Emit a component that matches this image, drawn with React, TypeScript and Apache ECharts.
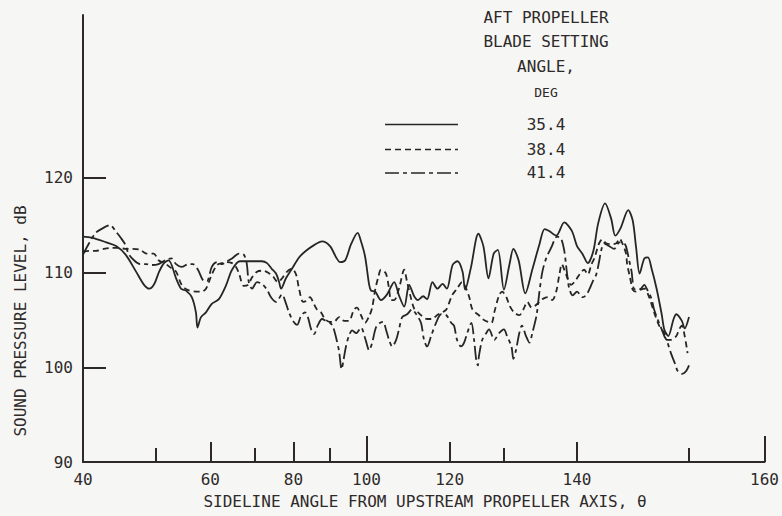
import React, { useEffect, useRef } from "react";
import * as echarts from "echarts";

// Blade setting angle 35.4 deg (solid curve): sideline angle (deg) / SPL (dB)
const angles354 = [
  40.0, 41.0, 42.8, 44.1, 45.4, 46.9, 48.1, 48.9, 49.7, 50.5, 51.3, 52.1, 53.4, 54.3, 55.2, 56.3,
  57.1, 57.4, 58.1, 59.1, 60.3, 61.8, 63.4, 64.7, 66.5, 69.4, 71.8, 73.1, 74.3, 75.4, 76.2, 76.7,
  78.0, 79.6, 81.5, 83.4, 85.6, 87.8, 90.0, 91.7, 92.8, 94.2, 95.8, 97.6, 98.5, 99.6, 100.7, 101.2,
  102.3, 103.8, 105.4, 107.2, 108.4, 109.7, 110.9, 112.1, 113.0, 114.2, 115.1, 116.3, 117.4, 118.5,
  119.4, 120.6, 121.6, 122.6, 123.1, 124.2, 125.6, 126.5, 127.4, 128.3, 129.0, 130.0, 130.9, 131.5,
  132.3, 133.3, 134.3, 135.3, 136.0, 136.6, 137.5, 138.5, 139.4, 140.0, 140.6, 141.2, 141.8, 142.3,
  143.0, 143.6, 144.0, 144.5, 145.2, 145.6, 145.9, 146.2, 146.6, 146.9, 147.2, 147.6, 148.0, 148.2,
  148.5, 148.9, 149.1, 149.5, 149.7, 150.0,
];
const levels354 = [
  113.8, 113.7, 113.2, 112.8, 111.9, 110.1, 108.7, 108.3, 108.8, 110.1, 111.0, 111.3, 109.4, 108.3, 108.1, 107.4,
  105.8, 104.2, 105.3, 105.8, 106.7, 107.2, 108.7, 110.3, 111.2, 111.2, 111.2, 111.0, 110.4, 109.9, 109.0, 108.3,
  109.4, 110.4, 111.6, 112.3, 112.9, 113.3, 112.8, 111.6, 111.1, 111.3, 113.0, 114.2, 113.3, 111.7, 108.7, 108.1,
  108.0, 107.1, 107.7, 109.0, 107.6, 106.4, 108.7, 107.5, 107.1, 107.5, 107.2, 109.0, 108.3, 108.8,
  108.3, 110.8, 111.2, 110.1, 108.2, 110.5, 114.1, 112.8, 109.4, 112.0, 112.4, 108.2, 110.9, 112.5,
  111.3, 107.8, 110.3, 113.0, 114.6, 114.4, 113.9, 115.3, 114.4, 112.8, 112.0, 111.0, 112.3, 115.2,
  117.3, 115.7, 113.9, 114.7, 116.6, 115.5, 112.6, 109.9, 111.5, 111.6, 110.4, 108.3, 105.6, 104.0,
  103.3, 105.1, 105.6, 104.9, 104.1, 105.3,
];

// Blade setting angle 38.4 deg (short dashes)
const angles384 = [
  40.0, 40.7, 41.5, 42.5, 43.5, 44.5, 45.4, 46.4, 47.5, 48.5, 49.6, 50.4, 51.4, 52.5, 53.4, 54.4,
  55.4, 57.1, 58.3, 59.1, 59.7, 60.3, 61.4, 62.5, 63.6, 64.7, 65.6, 66.3, 67.4, 68.4, 69.4, 70.6,
  72.1, 73.3, 74.6, 75.9, 77.0, 78.3, 79.6, 80.7, 81.5, 82.6, 83.4, 84.5, 85.3, 86.4, 87.5, 88.6,
  90.0, 91.1, 92.5, 93.9, 95.2, 96.6, 97.4, 98.5, 99.6, 100.7, 101.5, 102.3, 103.1, 103.8, 105.1, 105.9,
  106.4, 107.2, 108.4, 109.7, 110.4, 111.4, 112.1, 112.8, 114.0, 115.1, 116.2, 117.3, 118.4, 119.3,
  120.5, 121.5, 122.5, 123.3, 123.9, 124.5, 125.7, 126.6, 127.9, 128.4, 129.2, 129.7, 130.4, 130.9,
  131.6, 132.4, 133.0, 133.6, 134.2, 134.7, 135.3, 135.7, 136.4, 137.0, 137.5, 137.9, 138.2, 138.5,
  138.9, 139.3, 139.7, 140.0, 140.5, 140.8, 141.2, 141.6, 141.9, 142.2, 142.4, 142.7, 143.1, 143.6,
  144.1, 144.4, 144.7, 145.0, 145.1, 145.3, 145.5, 145.6, 145.9, 146.3, 146.6, 147.0, 147.4, 147.8,
  148.2, 148.4, 148.7, 149.1, 149.3, 149.5, 149.7, 149.9,
];
const levels384 = [
  112.2, 112.3, 112.3, 112.5, 112.6, 112.6, 112.5, 112.5, 112.4, 112.0, 112.0, 111.3, 111.0, 110.5, 110.1, 108.7,
  108.2, 108.0, 108.0, 108.3, 109.0, 109.8, 110.8, 111.0, 111.1, 111.0, 110.6, 109.9, 108.6, 108.7, 109.5, 110.1,
  110.2, 110.0, 109.6, 109.0, 109.4, 110.1, 110.4, 109.8, 108.3, 106.9, 107.0, 107.4, 106.9, 106.1, 105.8, 105.1,
  104.8, 104.8, 105.3, 104.9, 104.9, 106.1, 106.3, 105.5, 104.7, 105.4, 106.3, 108.2, 109.5, 110.3, 109.9, 108.3,
  107.1, 107.1, 108.3, 110.3, 109.0, 107.2, 106.2, 105.9, 105.4, 105.1, 105.1, 105.5, 105.8, 106.1,
  107.6, 108.3, 109.0, 108.3, 107.4, 106.1, 105.5, 105.0, 104.7, 105.8, 107.6, 108.0, 107.4, 106.5,
  105.8, 105.5, 106.1, 106.9, 106.3, 106.5, 106.9, 107.2, 107.4, 107.1, 108.0, 109.8, 110.9, 110.3,
  109.4, 108.7, 109.0, 109.4, 110.1, 110.3, 109.8, 110.9, 111.5, 112.5, 113.1, 113.5, 113.1, 113.0,
  113.1, 113.6, 113.0, 112.0, 110.9, 109.8, 108.7, 108.2, 108.0, 108.2, 108.3, 107.4, 105.8, 104.4,
  103.6, 102.9, 102.9, 103.3, 104.0, 104.4, 103.3, 101.5,
];

// Blade setting angle 41.4 deg (dash-dot)
const angles414 = [
  40.0, 40.7, 41.5, 42.4, 43.3, 44.1, 44.7, 45.4, 45.8, 46.6, 47.5, 48.4, 49.3, 50.4, 51.8, 52.6,
  53.4, 54.4, 55.7, 56.5, 57.5, 58.5, 59.3, 60.3, 61.4, 62.5, 63.6, 64.7, 66.3, 67.4, 68.1, 68.6,
  69.4, 70.6, 71.8, 73.1, 74.1, 75.4, 77.0, 77.7, 78.8, 79.9, 81.0, 82.0, 83.1, 83.9, 84.8, 85.6,
  86.7, 87.8, 88.9, 90.0, 90.8, 91.7, 92.5, 93.2, 93.7, 94.4, 95.2, 96.1, 97.2, 98.5, 99.6, 100.7,
  101.5, 102.5, 103.6, 104.4, 105.1, 105.9, 106.7, 107.7, 108.4, 109.2, 110.4, 111.6, 112.6, 113.7,
  114.4, 115.1, 116.0, 117.1, 118.2, 119.3, 120.3, 120.9, 121.5, 122.3, 122.9, 123.5, 124.3, 124.8,
  125.2, 125.5, 125.7, 126.3, 127.0, 127.5, 128.4, 129.2, 130.0, 130.5, 131.2, 131.5, 131.9, 132.4,
  132.8, 133.4, 133.9, 134.3, 134.9, 135.3, 135.7, 136.2, 136.9, 137.6, 138.1, 138.5, 138.7, 138.9,
  139.1, 139.5, 140.0, 140.6, 141.0, 141.4, 141.7, 142.1, 142.4, 142.6, 142.9, 143.4, 143.9, 144.4,
  144.9, 145.1, 145.3, 145.5, 145.6, 145.7, 146.0, 146.3, 146.6, 146.8, 147.2, 147.4, 147.7, 148.0,
  148.2, 148.4, 148.7, 149.0, 149.2, 149.5, 149.8, 150.0,
];
const levels414 = [
  111.9, 113.1, 114.2, 114.7, 115.0, 114.3, 113.7, 112.9, 112.0, 111.3, 110.9, 110.9, 110.8, 110.9, 111.4, 111.5,
  110.9, 110.6, 110.9, 110.9, 110.3, 109.2, 109.1, 110.6, 111.1, 110.9, 111.2, 111.5, 112.0, 111.9, 111.0, 109.0,
  108.3, 109.0, 108.8, 108.2, 107.4, 106.9, 107.7, 107.1, 105.8, 104.9, 104.5, 105.4, 105.8, 105.3, 104.0, 103.5,
  104.5, 105.1, 104.9, 104.7, 104.3, 103.1, 101.7, 99.8, 100.7, 102.2, 103.3, 103.9, 103.6, 104.2, 103.1, 101.8,
  102.6, 104.2, 104.7, 104.8, 104.0, 102.9, 102.2, 102.9, 104.0, 105.3, 105.6, 106.1, 105.6, 104.7,
  102.9, 102.2, 103.3, 104.7, 105.6, 105.5, 104.7, 104.4, 102.9, 102.2, 102.6, 103.6, 104.7, 102.9,
  100.8, 100.2, 101.2, 102.9, 103.6, 104.0, 102.9, 103.6, 104.0, 103.3, 102.2, 100.9, 101.8, 103.6,
  104.4, 103.3, 102.6, 103.6, 105.5, 108.0, 110.1, 111.5, 112.7, 113.8, 113.6, 112.3, 110.9, 109.4,
  108.3, 107.6, 108.0, 107.4, 107.6, 108.3, 109.0, 109.8, 111.2, 112.3, 113.1, 112.8, 112.5, 113.2,
  113.0, 112.3, 111.2, 110.1, 109.0, 108.3, 108.2, 108.3, 108.7, 108.3, 107.2, 106.1, 105.0, 104.0,
  103.3, 102.8, 101.5, 100.4, 99.6, 99.3, 99.6, 100.2,
];

const bladeAngles = ["35.4", "38.4", "41.4"];
const legendTitle = ["AFT PROPELLER", "BLADE SETTING", "ANGLE,"];
const legendUnit = "DEG";

// Axis ticks, in degrees of sideline angle
const xLabelAngles = [40, 60, 80, 100, 120, 140, 160];
const xLongTickAngles = [100, 160];
const xMidTickAngles = [60, 80, 120, 140];
const xShortTickAngles = [50, 70, 90, 130, 150];
const yTickLevels = [100, 110, 120];
const yLabelLevels = [90, 100, 110, 120];

// The abscissa is laid out as distance along the sideline: x/h = tan(theta - 90 deg)
const sidelinePosition = (deg: number) => Math.tan(((deg - 90) * Math.PI) / 180);
const X_MIN = sidelinePosition(40);
// The drawn axis stops at about 154.5 deg; its closing tick carries the 160 label
const X_MAX = sidelinePosition(154.5);
const tickPosition = (deg: number) => Math.min(sidelinePosition(deg), X_MAX);

const FONT = '"DejaVu Sans Mono", monospace';
const INK = "#2e2a2a";
const AXIS = "#2f2828";
const CURVE = "#262626";
const dashPatterns: (string | number[])[] = ["solid", [6, 4], [14, 4, 4, 4]];

const seriesData = [
  angles354.map((a, i) => [sidelinePosition(a), levels354[i]]),
  angles384.map((a, i) => [sidelinePosition(a), levels384[i]]),
  angles414.map((a, i) => [sidelinePosition(a), levels414[i]]),
];

const xLabelPositions = xLabelAngles.map(tickPosition);
const xLabelFor = (v: number) => {
  let best = 0;
  xLabelPositions.forEach((p, i) => {
    if (Math.abs(p - v) < Math.abs(xLabelPositions[best] - v)) best = i;
  });
  return String(xLabelAngles[best]);
};

const tickAxis = (angles: number[], length: number, withLine: boolean) => ({
  type: "value" as const,
  gridIndex: 0,
  position: "bottom" as const,
  min: X_MIN,
  max: X_MAX,
  axisLine: { show: withLine, onZero: false, lineStyle: { color: AXIS, width: 2 } },
  axisTick: {
    show: true,
    inside: true,
    length,
    customValues: angles.map(tickPosition),
    lineStyle: { color: AXIS, width: 2 },
  },
  axisLabel: withLine
    ? {
        show: true,
        customValues: xLabelPositions,
        formatter: xLabelFor,
        margin: 9,
        color: INK,
        fontFamily: FONT,
        fontSize: 16,
        showMinLabel: true,
        showMaxLabel: true,
      }
    : { show: false },
  splitLine: { show: false },
});

const textStyle = (text: string, size = 16) => ({
  text,
  fill: INK,
  font: `${size}px ${FONT}`,
  align: "center",
  verticalAlign: "middle",
});

export default function App() {
  const ref = useRef<HTMLDivElement>(null);

  useEffect(() => {
    if (!ref.current) return;
    const chart = echarts.init(ref.current, undefined, { renderer: "svg" });

    const legendRows = [124, 149, 172.5];
    const legendGraphics: any[] = [
      ...legendTitle.map((t, i) => ({
        type: "text",
        x: 546,
        y: [17.5, 41.5, 66][i],
        style: textStyle(t),
      })),
      { type: "text", x: 546, y: 92, style: textStyle(legendUnit, 13) },
      ...bladeAngles.map((t, i) => ({
        type: "text",
        x: 546,
        y: legendRows[i],
        style: textStyle(t),
      })),
      ...bladeAngles.map((_, i) => ({
        type: "line",
        shape: { x1: 385, y1: legendRows[i] + 0.5, x2: 458, y2: legendRows[i] + 0.5 },
        style: {
          stroke: CURVE,
          lineWidth: 1.6,
          lineDash: i === 0 ? null : (dashPatterns[i] as number[]),
        },
      })),
      {
        type: "text",
        x: 20,
        y: 321,
        rotation: Math.PI / 2,
        style: textStyle("SOUND PRESSURE LEVEL, dB"),
      },
      {
        type: "text",
        x: 425,
        y: 501,
        style: textStyle("SIDELINE ANGLE FROM UPSTREAM PROPELLER AXIS, \u03b8"),
      },
    ];

    chart.setOption({
      animation: false,
      backgroundColor: "#f6f6f4",
      grid: { left: 83, right: 17, top: 15, bottom: 54 },
      xAxis: [
        tickAxis(xLongTickAngles, 26, true),
        tickAxis(xMidTickAngles, 20, false),
        tickAxis(xShortTickAngles, 14, false),
      ],
      yAxis: {
        type: "value",
        min: 90,
        max: 137.2,
        axisLine: { show: true, onZero: false, lineStyle: { color: AXIS, width: 2 } },
        axisTick: {
          show: true,
          inside: true,
          length: 23,
          customValues: yTickLevels,
          lineStyle: { color: AXIS, width: 2 },
        },
        axisLabel: {
          show: true,
          customValues: yLabelLevels,
          margin: 10,
          color: INK,
          fontFamily: FONT,
          fontSize: 16,
        },
        splitLine: { show: false },
      },
      series: seriesData.map((data, i) => ({
        type: "line",
        name: bladeAngles[i],
        xAxisIndex: 0,
        data,
        showSymbol: false,
        smooth: 0.3,
        lineStyle: { color: CURVE, width: 1.8, type: dashPatterns[i] },
      })),
      graphic: legendGraphics,
    });

    return () => chart.dispose();
  }, []);

  return (
    <div
      ref={ref}
      style={{ position: "absolute", left: 0, top: 0, width: 782, height: 516 }}
    />
  );
}
